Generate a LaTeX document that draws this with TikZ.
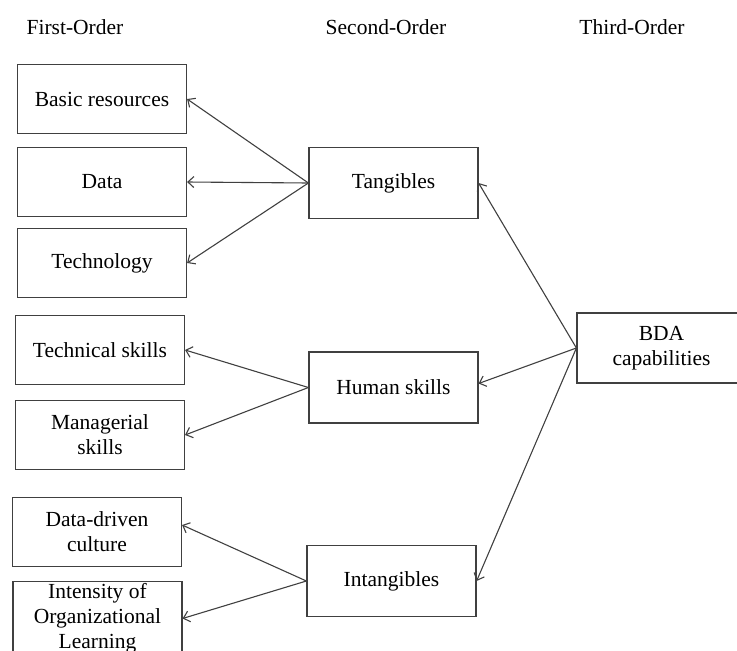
\documentclass[tikz,border=0pt]{standalone}
\usepackage{fontspec}
\setmainfont{Liberation Serif}
\usetikzlibrary{positioning,arrows.meta}
\tikzset{
    bdamodel/.style={
        x=1pt, y=-1pt,
        font=\fontsize{21.5}{25}\selectfont,
        % Stile per le intestazioni delle colonne
        header/.style={inner sep=0pt, text=black},
        % Stile per i costrutti di primo ordine
        firstorder/.style={draw=black!75, line width=1.2pt, rectangle, align=center,
                           minimum width=169pt, minimum height=69pt,
                           inner sep=2pt, text=black},
        % Stile per i costrutti di secondo ordine
        secondorder/.style={draw=black!75, line width=1.2pt, rectangle, align=center,
                            minimum width=169pt, minimum height=71pt,
                            inner sep=2pt, text=black},
        % Stile per il costrutto di terzo ordine
        thirdorder/.style={draw=black!75, line width=1.2pt, rectangle, align=center,
                           minimum width=169pt, minimum height=70pt,
                           inner sep=2pt, text=black},
        % Stile per le frecce
        loading/.style={draw=black!75, line width=1.1pt,
                        -{Straight Barb[length=6pt, width=11pt]}}
    }
}
\begin{document}
\begin{tikzpicture}[bdamodel]
    \useasboundingbox (0,0) rectangle (737,651);
    % intestazioni
    \node[header] (hfirst)  at (75,27)  {First-Order};
    \node[header] (hsecond) at (386,27) {Second-Order};
    \node[header] (hthird)  at (632,27) {Third-Order};
    % primo ordine
    \node[firstorder] (basic)  at (102,99)  {Basic resources};
    \node[firstorder] (data)   at (102,182) {Data};
    \node[firstorder] (tech)   at (102,263) {Technology};
    \node[firstorder] (techsk) at (100,350) {Technical skills};
    \node[firstorder] (mansk)  at (100,435) {Managerial\\skills};
    \node[firstorder] (culture) at (97,532) {Data-driven\\culture};
    \node[firstorder, anchor=north] (learning) at (97.5,581) {Intensity of\\Organizational\\Learning};
    % secondo ordine
    \node[secondorder] (tangibles)   at (393.5,183)   {Tangibles};
    \node[secondorder] (human)       at (393.5,387.5) {Human skills};
    \node[secondorder] (intangibles) at (391.5,581)   {Intangibles};
    % terzo ordine
    \node[thirdorder] (bda) at (661.5,348) {BDA\\capabilities};
    % frecce
    \draw[loading] (tangibles.west) -- (basic.east);
    \draw[loading] (tangibles.west) -- (data.east);
    \draw[loading] (tangibles.west) -- (tech.east);
    \draw[loading] (human.west) -- (techsk.east);
    \draw[loading] (human.west) -- (mansk.east);
    \draw[loading] (intangibles.west) -- ([yshift=7pt]culture.east);
    \draw[loading] (intangibles.west) -- (learning.east);
    \draw[loading] (bda.west) -- (tangibles.east);
    \draw[loading] (bda.west) -- ([yshift=4pt]human.east);
    \draw[loading] (bda.west) -- (intangibles.east);
\end{tikzpicture}
\end{document}
